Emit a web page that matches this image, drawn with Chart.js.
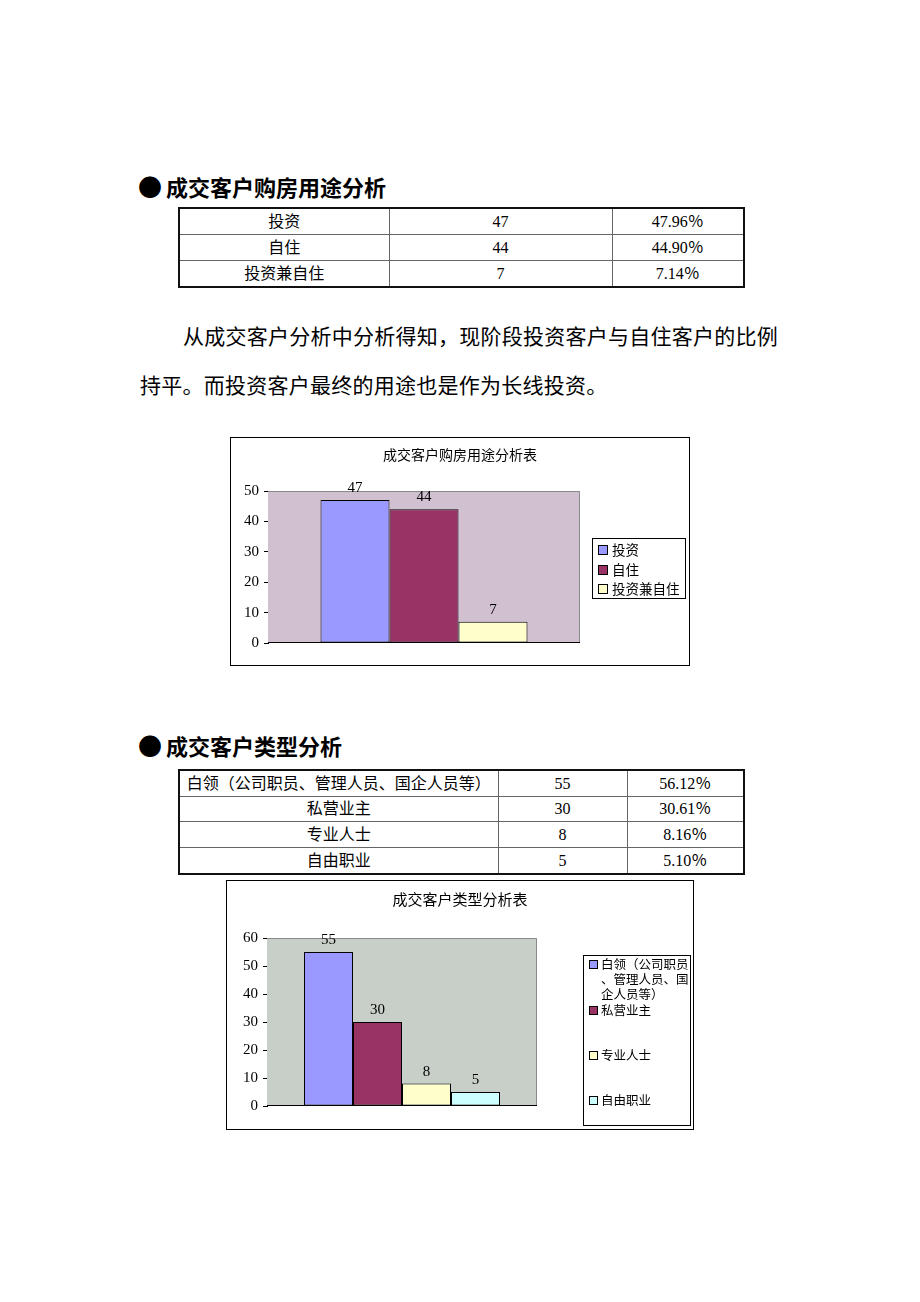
<!DOCTYPE html>
<html><head><meta charset="utf-8">
<script src="https://cdn.jsdelivr.net/npm/chart.js@4"></script>
<style>
body{margin:0;background:#fff;width:920px;height:1302px;position:relative;overflow:hidden;font-family:"Liberation Serif","Noto Sans CJK SC",serif;color:#000;}
.abs{position:absolute;white-space:nowrap;}
.heading{font-family:"Noto Sans CJK SC";font-weight:bold;font-size:22px;line-height:22px;}
.bullet{font-family:"Noto Sans CJK SC";font-size:24px;line-height:24px;}
.para{font-family:"Noto Sans CJK SC";font-size:21px;line-height:21px;letter-spacing:0.25px;}
table.data{position:absolute;border-collapse:collapse;table-layout:fixed;border:2px solid #111;}
table.data td{border:1px solid #666;text-align:center;font-size:16px;padding:0;line-height:16px;font-family:"Liberation Serif","Noto Sans CJK SC",serif;white-space:nowrap;overflow:hidden;}
.frame{position:absolute;border:1px solid #000;box-sizing:border-box;background:#fff;}
.frame canvas{position:absolute;left:0;top:0;}
</style>
</head><body>

<div class="abs bullet" style="left:138px;top:174px;">●</div>
<div class="abs heading" style="left:166px;top:175px;">成交客户购房用途分析</div>
<table class="data" id="t1" style="left:178px;top:207px;width:565px;"></table>

<div class="abs para" style="left:183px;top:325px;">从成交客户分析中分析得知，现阶段投资客户与自住客户的比例</div>
<div class="abs para" style="left:140px;top:374px;">持平。而投资客户最终的用途也是作为长线投资。</div>

<div class="frame" style="left:230px;top:437px;width:460px;height:229px;"><canvas id="c1" width="458" height="227"></canvas></div>

<div class="abs bullet" style="left:138px;top:733px;">●</div>
<div class="abs heading" style="left:166px;top:734px;">成交客户类型分析</div>
<table class="data" id="t2" style="left:178px;top:769px;width:565px;"></table>

<div class="frame" style="left:226px;top:880px;width:468px;height:250px;"><canvas id="c2" width="466" height="248"></canvas></div>

<script>
// ---------- DATA ----------
const purposeCategories = ['投资', '自住', '投资兼自住'];
const purposeCounts = [47, 44, 7];
const purposePercents = ['47.96％', '44.90％', '7.14％'];
const purposeYTicks = [0, 10, 20, 30, 40, 50];
const purposeTitle = '成交客户购房用途分析表';

const typeCategories = ['白领（公司职员、管理人员、国企人员等）', '私营业主', '专业人士', '自由职业'];
const typeCounts = [55, 30, 8, 5];
const typePercents = ['56.12％', '30.61％', '8.16％', '5.10％'];
const typeYTicks = [0, 10, 20, 30, 40, 50, 60];
const typeTitle = '成交客户类型分析表';

const barColors = ['#9999ff', '#993366', '#ffffcc', '#ccffff'];

// ---------- TABLES ----------
function buildTable(id, cats, counts, pcts, colW, rowH) {
  const t = document.getElementById(id);
  const cg = document.createElement('colgroup');
  colW.forEach(w => { const c = document.createElement('col'); c.style.width = w + 'px'; cg.appendChild(c); });
  t.appendChild(cg);
  cats.forEach((c, i) => {
    const tr = document.createElement('tr');
    [c, String(counts[i]), pcts[i]].forEach(v => {
      const td = document.createElement('td');
      td.textContent = v; td.style.height = rowH[i] + 'px';
      tr.appendChild(td);
    });
    t.appendChild(tr);
  });
}
buildTable('t1', purposeCategories, purposeCounts, purposePercents, [210, 223, 132], [25, 25, 25]);
buildTable('t2', typeCategories, typeCounts, typePercents, [319, 129, 117], [25, 24, 25, 25]);

// ---------- CHART PLUGINS ----------
const FONT = '"Liberation Serif","Noto Sans CJK SC",serif';
const CJK = '"Noto Sans CJK SC","Liberation Serif",sans-serif';

const docChartPlugin = {
  id: 'docChart',
  beforeDatasetsDraw(chart, args, o) {
    const ctx = chart.ctx, a = chart.chartArea;
    ctx.save();
    ctx.fillStyle = o.plotBg;
    ctx.fillRect(a.left, a.top, a.right - a.left, a.bottom - a.top);
    ctx.strokeStyle = '#8a8a8a'; ctx.lineWidth = 1;
    ctx.beginPath();
    ctx.moveTo(a.left, a.top + 0.5); ctx.lineTo(a.right - 0.5, a.top + 0.5); ctx.lineTo(a.right - 0.5, a.bottom);
    ctx.stroke();
    ctx.strokeStyle = '#000';
    ctx.beginPath();
    ctx.moveTo(a.left, a.bottom - 0.5); ctx.lineTo(a.right, a.bottom - 0.5);
    ctx.stroke();
    ctx.restore();
  },
  afterDatasetsDraw(chart, args, o) {
    const ctx = chart.ctx;
    ctx.save();
    ctx.font = o.valueFont; ctx.fillStyle = '#000'; ctx.textAlign = 'center'; ctx.textBaseline = 'middle';
    chart.data.datasets.forEach((ds, i) => {
      const meta = chart.getDatasetMeta(i);
      meta.data.forEach((el, j) => {
        ctx.fillText(String(ds.data[j]), el.x, el.y - o.valueOffset);
      });
    });
    ctx.restore();
  },
  afterDraw(chart, args, o) {
    const ctx = chart.ctx;
    ctx.save();
    // title
    ctx.font = o.titleFont; ctx.fillStyle = '#000'; ctx.textAlign = 'center'; ctx.textBaseline = 'middle';
    ctx.fillText(o.title, chart.width / 2, o.titleY);
    // legend
    const L = o.legend;
    ctx.fillStyle = '#fff';
    ctx.fillRect(L.x, L.y, L.w, L.h);
    ctx.strokeStyle = '#000'; ctx.lineWidth = 1;
    ctx.strokeRect(L.x + 0.5, L.y + 0.5, L.w - 1, L.h - 1);
    ctx.font = L.font; ctx.textAlign = 'left'; ctx.textBaseline = 'middle';
    chart.data.datasets.forEach((ds, i) => {
      const y = L.itemY[i];
      ctx.fillStyle = ds.backgroundColor;
      ctx.fillRect(L.sqX, Math.round(y - L.sq / 2), L.sq, L.sq);
      ctx.strokeStyle = '#000';
      ctx.strokeRect(L.sqX + 0.5, Math.round(y - L.sq / 2) + 0.5, L.sq - 1, L.sq - 1);
      ctx.fillStyle = '#000';
      // wrap by characters
      const lines = []; let line = '';
      for (const ch of ds.label) {
        if (line && ctx.measureText(line + ch).width > L.wrap) { lines.push(line); line = ch; }
        else line += ch;
      }
      if (line) lines.push(line);
      lines.forEach((ln, k) => ctx.fillText(ln, L.textX, y + k * L.lineH));
    });
    ctx.restore();
  }
};

function makeChart(id, cats, counts, yTicks, opts) {
  const datasets = cats.map((c, i) => ({
    label: c,
    data: [counts[i]],
    backgroundColor: barColors[i],
    borderColor: '#000',
    borderWidth: 1,
    borderSkipped: false,
    categoryPercentage: opts.catPct,
    barPercentage: 1
  }));
  return new Chart(document.getElementById(id), {
    type: 'bar',
    data: { labels: [''], datasets },
    plugins: [docChartPlugin],
    options: {
      responsive: false,
      devicePixelRatio: 1,
      animation: false,
      layout: { padding: opts.padding },
      plugins: {
        legend: { display: false },
        tooltip: { enabled: false },
        title: { display: false },
        docChart: opts.doc
      },
      scales: {
        x: { display: false },
        y: {
          min: yTicks[0], max: yTicks[yTicks.length - 1],
          afterBuildTicks(scale) { scale.ticks = yTicks.map(v => ({ value: v })); },
          afterFit(scale) { scale.width = opts.yWidth; scale.paddingTop = 0; scale.paddingBottom = 0; },
          ticks: { color: '#000', font: { family: FONT, size: 15 }, padding: 5 },
          grid: { drawOnChartArea: false, drawTicks: true, tickLength: 4, color: '#000' },
          border: { display: true, color: '#000', width: 1 }
        }
      }
    }
  });
}

makeChart('c1', purposeCategories, purposeCounts, purposeYTicks, {
  catPct: 207 / 312,
  yWidth: 37,
  padding: { left: 0, top: 53, right: 109, bottom: 22 },
  doc: {
    plotBg: '#d0c0d0',
    valueFont: '15px ' + FONT, valueOffset: 12,
    title: purposeTitle, titleFont: '14px ' + CJK, titleY: 17,
    legend: { x: 361, y: 100, w: 94, h: 61, sqX: 367, sq: 10, textX: 381, itemY: [112, 132, 151], font: '13.5px ' + CJK, lineH: 15, wrap: 200 }
  }
});

makeChart('c2', typeCategories, typeCounts, typeYTicks, {
  catPct: 196 / 270,
  yWidth: 40,
  padding: { left: 0, top: 57, right: 156, bottom: 23 },
  doc: {
    plotBg: '#c8cec8',
    valueFont: '15px ' + FONT, valueOffset: 12,
    title: typeTitle, titleFont: '15px ' + CJK, titleY: 18,
    legend: { x: 356, y: 74, w: 108, h: 171, sqX: 362, sq: 9, textX: 374, itemY: [83, 129, 174, 219], font: '12.5px ' + CJK, lineH: 15, wrap: 90 }
  }
});
</script>
</body></html>
